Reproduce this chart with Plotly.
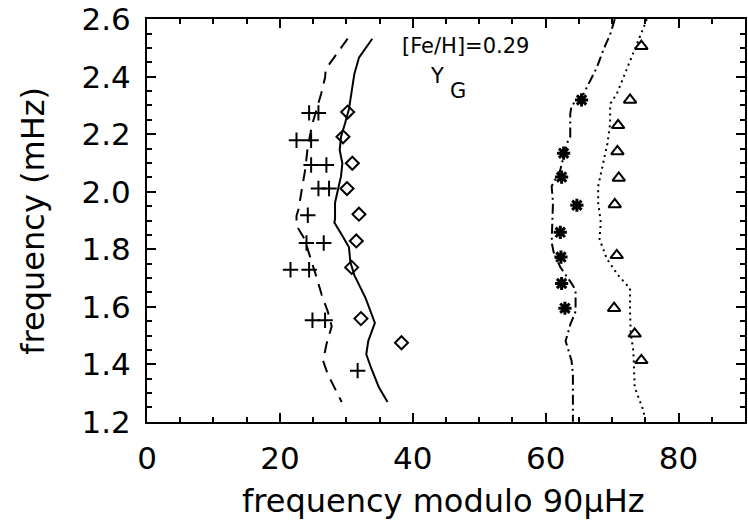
import plotly.graph_objects as go

# Observed modes (frequency modulo 90 muHz, frequency in mHz)
plus_x = [24.4, 25.8, 22.5, 24.7, 24.7, 27.0, 25.8, 27.4, 24.2, 24.0, 26.6, 21.6, 24.4, 24.9, 26.8, 31.7]
plus_y = [2.274, 2.274, 2.179, 2.179, 2.093, 2.093, 2.011, 2.011, 1.918, 1.822, 1.822, 1.729, 1.729, 1.553, 1.553, 1.378]

diam_x = [30.2, 29.5, 30.9, 30.1, 31.9, 31.5, 30.8, 32.2, 38.3]
diam_y = [2.277, 2.191, 2.099, 2.011, 1.922, 1.829, 1.737, 1.559, 1.475]

ast_x = [65.4, 62.7, 62.4, 64.7, 62.2, 62.3, 62.4, 62.9]
ast_y = [2.319, 2.134, 2.051, 1.953, 1.859, 1.773, 1.681, 1.595]

tri_x = [74.4, 72.7, 70.9, 70.8, 71.0, 70.4, 70.7, 70.3, 73.4, 74.4]
tri_y = [2.506, 2.319, 2.231, 2.140, 2.048, 1.956, 1.779, 1.595, 1.506, 1.414]

# Model ridges
dash_x = [30.2, 28.2, 26.9, 26.8, 26.2, 24.9, 24.2, 23.8, 23.3, 22.8, 22.5, 22.5, 23.7, 24.6, 25.5, 26.3, 27.2, 27.8, 27.0, 26.5, 27.2, 28.2, 29.3]
dash_y = [2.532, 2.466, 2.426, 2.397, 2.340, 2.237, 2.157, 2.076, 2.008, 1.939, 1.916, 1.882, 1.836, 1.773, 1.704, 1.641, 1.584, 1.532, 1.469, 1.412, 1.366, 1.320, 1.269]

solid_x = [33.9, 32.9, 31.9, 31.2, 30.8, 30.4, 29.8, 29.2, 29.0, 29.4, 29.2, 28.7, 28.3, 28.3, 28.2, 29.4, 30.4, 30.6, 31.2, 32.9, 34.3, 33.3, 33.0, 33.7, 34.9, 36.2]
solid_y = [2.532, 2.500, 2.466, 2.409, 2.340, 2.288, 2.237, 2.191, 2.145, 2.099, 2.054, 2.008, 1.962, 1.905, 1.893, 1.847, 1.807, 1.756, 1.710, 1.630, 1.544, 1.481, 1.435, 1.389, 1.320, 1.269]

dd_x = [70.4, 69.7, 68.8, 67.7, 66.7, 65.7, 63.9, 63.7, 63.7, 63.2, 62.2, 60.9, 61.1, 61.0, 60.9, 61.2, 62.2, 63.9, 64.5, 64.5, 63.7, 63.0, 63.9, 64.1, 64.1, 64.1]
dd_y = [2.600, 2.546, 2.500, 2.432, 2.386, 2.340, 2.300, 2.271, 2.191, 2.168, 2.076, 2.019, 1.962, 1.893, 1.824, 1.790, 1.738, 1.681, 1.658, 1.584, 1.538, 1.481, 1.412, 1.366, 1.275, 1.200]

dot_x = [75.2, 74.9, 73.9, 72.9, 71.8, 70.7, 69.7, 69.7, 69.3, 68.7, 67.9, 67.9, 68.3, 68.1, 69.2, 70.9, 72.7, 72.7, 72.8, 73.2, 73.4, 74.7, 75.0]
dot_y = [2.600, 2.580, 2.523, 2.466, 2.397, 2.340, 2.305, 2.237, 2.168, 2.099, 2.019, 1.962, 1.893, 1.836, 1.767, 1.710, 1.664, 1.584, 1.509, 1.446, 1.320, 1.240, 1.200]

x_ticks = [0, 20, 40, 60, 80]
y_ticks = [1.2, 1.4, 1.6, 1.8, 2.0, 2.2, 2.4, 2.6]

FONT = "DejaVu Sans"
fig = go.Figure()

fig.add_trace(go.Scatter(x=dash_x, y=dash_y, mode="lines",
                         line=dict(color="black", width=2, dash="12px,8px")))
fig.add_trace(go.Scatter(x=solid_x, y=solid_y, mode="lines",
                         line=dict(color="black", width=2)))
fig.add_trace(go.Scatter(x=dd_x, y=dd_y, mode="lines",
                         line=dict(color="black", width=2, dash="10px,4px,2px,4px")))
fig.add_trace(go.Scatter(x=dot_x, y=dot_y, mode="lines",
                         line=dict(color="black", width=2, dash="2px,4px")))

fig.add_trace(go.Scatter(x=plus_x, y=plus_y, mode="markers",
                         marker=dict(symbol="cross-thin", size=11, color="black",
                                     line=dict(color="black", width=2))))
fig.add_trace(go.Scatter(x=diam_x, y=diam_y, mode="markers",
                         marker=dict(symbol="diamond-open", size=10, color="black",
                                     line=dict(color="black", width=2))))
fig.add_trace(go.Scatter(x=ast_x, y=ast_y, mode="markers",
                         marker=dict(symbol="asterisk-open", size=11, color="black",
                                     line=dict(color="black", width=3))))
fig.add_trace(go.Scatter(x=tri_x, y=tri_y, mode="markers",
                         marker=dict(symbol="triangle-up-open", size=11, color="black",
                                     line=dict(color="black", width=2))))

fig.add_annotation(x=48.0, y=2.505, text="[Fe/H]=0.29", showarrow=False,
                   font=dict(family=FONT, size=21, color="black"))
fig.add_annotation(x=43.6, y=2.402, text="Y", showarrow=False,
                   font=dict(family=FONT, size=21, color="black"))
fig.add_annotation(x=46.8, y=2.350, text="G", showarrow=False,
                   font=dict(family=FONT, size=21, color="black"))

# axis titles
fig.add_annotation(xref="paper", yref="paper", x=0.495, y=-0.197,
                   text="frequency modulo 90μHz", showarrow=False,
                   xanchor="center", yanchor="middle",
                   font=dict(family=FONT, size=32, color="black"))
fig.add_annotation(xref="paper", yref="paper", x=-0.192, y=0.50,
                   text="frequency (mHz)", showarrow=False, textangle=-90,
                   xanchor="center", yanchor="middle",
                   font=dict(family=FONT, size=32, color="black"))

axis_common = dict(showgrid=False, zeroline=False, showline=True, linecolor="black",
                   linewidth=2, mirror="ticks", ticks="inside", ticklen=9,
                   tickwidth=2, tickcolor="black", ticklabeloverflow="allow",
                   tickfont=dict(family=FONT, size=31, color="black"))

fig.update_xaxes(range=[0, 90], tickvals=x_ticks, ticktext=[str(v) for v in x_ticks],
                 ticklabelstandoff=8,
                 minor=dict(dtick=5, ticks="inside", ticklen=5, tickwidth=2, tickcolor="black"),
                 **axis_common)
fig.update_yaxes(range=[1.1995, 2.6005], tickvals=y_ticks, ticktext=[f"{v:.1f}" for v in y_ticks],
                 ticklabelstandoff=8,
                 minor=dict(dtick=0.05, tick0=1.2, ticks="inside", ticklen=5, tickwidth=2, tickcolor="black"),
                 **axis_common)

fig.update_layout(width=748, height=527, showlegend=False,
                  margin=dict(l=147, r=1, t=14, b=105),
                  plot_bgcolor="white", paper_bgcolor="white")

fig.write_html("out.html")
